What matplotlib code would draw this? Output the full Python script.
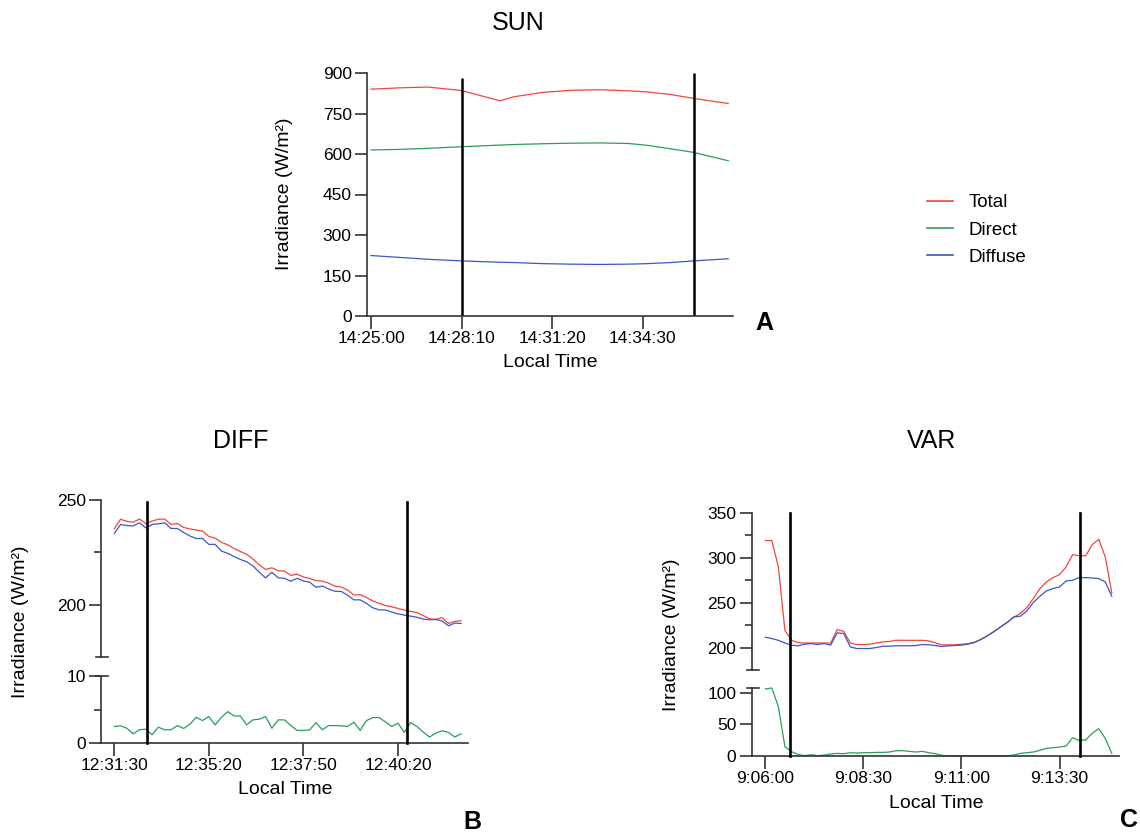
import numpy as np
import matplotlib.pyplot as plt
from matplotlib.lines import Line2D
from matplotlib.transforms import blended_transform_factory

plt.rcParams['font.family'] = ['Liberation Sans', 'DejaVu Sans']

RED = "#f2463a"
GREEN = "#2a9d58"
BLUE = "#3a58c4"
SPINE = "#333333"

# ---- SUN (seconds after 14:25:00) ----
sun_t = [0, 60, 120, 190, 271, 300, 360, 420, 480, 540, 580, 630, 677, 750]
sun_total = [840, 845, 848, 835, 797, 812, 828, 836, 838, 834, 830, 820, 806, 787]
sun_direct = [615, 617, 621, 627, 633, 635, 638, 640, 641, 639, 632, 619, 606, 575]
sun_diffuse = [224, 217, 210, 204, 199, 198, 194, 192, 191, 192, 194, 198, 204, 212]
sun_marks = [190, 678]
sun_ticks = [0, 190, 380, 570]
sun_ticklabels = ["14:25:00", "14:28:10", "14:31:20", "14:34:30"]

# ---- DIFF (10 s samples) ----
diff_t = np.arange(0, 560, 10)
diff_total = [236.2, 240.8, 239.8, 239.4, 240.9, 238.8, 239.9, 240.8, 240.9, 238.3,
              238.8, 236.9, 236.2, 235.6, 235.2, 232.6, 231.8, 229.8, 228.6, 226.8,
              225.4, 224.1, 221.8, 219.0, 216.8, 217.6, 216.2, 216.0, 214.0, 214.6,
              213.2, 212.5, 211.5, 211.2, 210.3, 208.8, 208.4, 207.0, 204.6, 204.8,
              203.4, 201.8, 200.6, 199.6, 199.0, 198.2, 197.4, 196.8, 196.2, 194.8,
              193.2, 193.0, 193.8, 191.0, 192.0, 192.3]
diff_diffuse = [234.0, 238.3, 237.8, 237.6, 239.1, 236.7, 238.3, 238.6, 239.1, 236.4,
                236.4, 234.5, 232.8, 231.6, 231.6, 228.8, 228.8, 225.6, 224.5, 223.0,
                221.6, 220.5, 218.5, 215.5, 212.8, 215.5, 212.8, 212.6, 211.2, 212.6,
                211.3, 210.7, 208.3, 208.9, 207.5, 206.4, 206.3, 204.5, 202.3, 202.3,
                200.6, 198.5, 197.5, 197.5, 196.5, 195.6, 195.0, 194.5, 194.0, 193.1,
                192.8, 192.9, 192.2, 189.9, 191.2, 191.0]
diff_direct = [2.46, 2.56, 2.2, 1.38, 1.97, 2.07, 1.23, 2.36, 1.97, 1.97,
               2.6, 2.17, 2.8, 3.84, 3.35, 3.94, 2.7, 3.84, 4.68, 4.04,
               4.04, 2.7, 3.45, 3.55, 3.94, 2.2, 3.45, 3.45, 2.6, 1.87,
               1.87, 1.97, 3.05, 1.97, 2.6, 2.6, 2.56, 2.46, 3.1, 1.87,
               3.35, 3.79, 3.79, 3.15, 2.46, 2.96, 1.58, 3.05, 2.46, 1.63,
               0.89, 1.48, 1.82, 1.58, 0.89, 1.38]
diff_marks = [52, 465]
diff_ticks = [0, 150, 300, 450]
diff_ticklabels = ["12:31:30", "12:35:20", "12:37:50", "12:40:20"]

# ---- VAR (10 s samples after 9:06:00) ----
var_t = np.arange(0, 540, 10)
var_total = [319, 319, 289.6, 219, 208, 205.5, 205, 205, 205, 205,
             205, 220, 218, 205, 203.3, 203.3, 203.7, 205, 206.3, 206.7,
             208.1, 208, 208, 208, 208, 207.4, 205.2, 203, 203, 203,
             203.7, 204.4, 206, 209.3, 213.3, 218, 223, 227.8, 233.7, 237.8,
             244.4, 254.4, 265.6, 273, 277.8, 281, 289.6, 303.3, 302.2, 302,
             314.4, 320.4, 300.7, 260.7]
var_diffuse = [211.5, 210, 208, 205, 202.6, 201.9, 203.7, 204.4, 203.3, 204.4,
               202.6, 216.3, 215.6, 200.7, 198.9, 198.9, 198.9, 200, 201.5, 201.5,
               201.9, 201.9, 201.9, 202.2, 203.3, 203, 202.2, 201.1, 201.9, 202.2,
               202.6, 203.7, 205.6, 208.9, 213, 217.8, 223, 228.1, 234, 234.8,
               240.7, 250, 257, 263, 265.6, 267.4, 274, 274.8, 277.8, 277.8,
               277.4, 276.7, 273, 257]
var_direct = [107, 108.5, 78.6, 14.4, 6.4, 2.1, 0, 1.6, 0, 1,
              2.7, 3.7, 3.2, 4.8, 4.3, 4.8, 4.8, 5.3, 5.3, 5.9,
              8, 8, 7, 5.9, 7, 4.8, 3.2, 0.5, 0, 0,
              0, 0, 0, 0, 0, 0, 0, 0, 1, 3.7,
              4.8, 5.9, 8.6, 11.8, 12.8, 13.9, 15.5, 28.9, 24.6, 25.1,
              35.8, 43.3, 27.8, 3.7]
var_marks = [37.8, 481]
var_ticks = [0, 150, 300, 450]
var_ticklabels = ["9:06:00", "9:08:30", "9:11:00", "9:13:30"]

W, H = 1140, 832
fig = plt.figure(figsize=(W / 100, H / 100), dpi=100)


def box(left, top, right, bottom):
    return [left / W, 1 - bottom / H, (right - left) / W, (bottom - top) / H]


def style(ax, spines):
    for s in ["top", "right", "left", "bottom"]:
        ax.spines[s].set_visible(s in spines)
        ax.spines[s].set_color(SPINE)
        ax.spines[s].set_linewidth(1.2)
    ax.tick_params(which="major", length=9, width=1.2, color=SPINE, labelsize=12.5, pad=2)
    ax.tick_params(which="minor", length=5, width=1.2, color=SPINE)
    ax.patch.set_alpha(0)


def brk(x_px, y_px):
    fig.add_artist(Line2D([(x_px - 5) / W, (x_px + 7) / W], [1 - y_px / H] * 2,
                          color=SPINE, lw=1.2))


def vmarks(ax_low, marks, top_px):
    tr = blended_transform_factory(ax_low.transData, fig.transFigure)
    y0 = ax_low.get_position().y0
    for m in marks:
        fig.add_artist(Line2D([m, m], [y0, 1 - top_px / H], transform=tr,
                              color="black", lw=1.9, zorder=5))


# ---------------- SUN ----------------
ax = fig.add_axes(box(367, 73, 733, 316))
style(ax, ["left", "bottom"])
ax.plot(sun_t, sun_total, color=RED, lw=0.9)
ax.plot(sun_t, sun_direct, color=GREEN, lw=0.9)
ax.plot(sun_t, sun_diffuse, color=BLUE, lw=0.9)
ax.vlines(sun_marks[0], 0, 881, color="black", lw=1.8)
ax.vlines(sun_marks[1], 0, 900, color="black", lw=1.8)
ax.set_xlim(-8.4, 760)
ax.set_ylim(0, 900)
ax.set_yticks(np.arange(0, 901, 150))
ax.set_xticks(sun_ticks, sun_ticklabels)
fig.text(518 / W, 1 - 23 / H, "SUN", fontsize=18, ha="center", va="center")
fig.text(284.5 / W, 1 - 194 / H, "Irradiance (W/m²)", fontsize=14, rotation=90,
         ha="center", va="center")
fig.text(550 / W, 1 - 363 / H, "Local Time", fontsize=14, ha="center", va="center")
fig.text(764 / W, 1 - 323 / H, "A", fontsize=18, fontweight="bold", ha="center", va="center")

handles = [Line2D([], [], color=c, lw=1.2) for c in (RED, GREEN, BLUE)]
fig.legend(handles, ["Total", "Direct", "Diffuse"], loc="upper left",
           bbox_to_anchor=(927 / W, 1 - 194 / H), frameon=False, fontsize=13.5,
           borderpad=0, borderaxespad=0, handlelength=1.4, handletextpad=0.8,
           labelspacing=0.55)

# ---------------- DIFF ----------------
axu = fig.add_axes(box(101, 500, 468, 657))
axl = fig.add_axes(box(101, 676, 468, 743))
style(axu, ["left"])
style(axl, ["left", "bottom"])
axu.plot(diff_t, diff_total, color=RED, lw=0.9)
axu.plot(diff_t, diff_diffuse, color=BLUE, lw=0.9)
axl.plot(diff_t, diff_direct, color=GREEN, lw=0.9)
for a in (axu, axl):
    a.set_xlim(-21, 561)
axu.set_ylim(175, 250)
axl.set_ylim(0, 10)
axu.set_yticks([200, 250])
axu.set_yticks([225], minor=True)
axu.set_xticks([])
axl.set_yticks([0, 10])
axl.set_yticks([5], minor=True)
axl.set_xticks(diff_ticks, diff_ticklabels)
brk(101, 657)
brk(101, 676)
vmarks(axl, diff_marks, 502)
fig.text(241 / W, 1 - 441 / H, "DIFF", fontsize=18, ha="center", va="center")
fig.text(21 / W, 1 - 622 / H, "Irradiance (W/m²)", fontsize=14, rotation=90,
         ha="center", va="center")
fig.text(285 / W, 1 - 790 / H, "Local Time", fontsize=14, ha="center", va="center")
fig.text(472 / W, 1 - 822 / H, "B", fontsize=18, fontweight="bold", ha="center", va="center")

# ---------------- VAR ----------------
axu = fig.add_axes(box(751.7, 512.7, 1119, 670))
axl = fig.add_axes(box(751.7, 688.3, 1119, 755.7))
style(axu, ["left"])
style(axl, ["left", "bottom"])
axu.plot(var_t, var_total, color=RED, lw=0.9)
axu.plot(var_t, var_diffuse, color=BLUE, lw=0.9)
axl.plot(var_t, var_direct, color=GREEN, lw=0.9, clip_on=False)
for a in (axu, axl):
    a.set_xlim(-20.8, 541)
axu.set_ylim(175, 350)
axl.set_ylim(0, 108)
axu.set_yticks([200, 250, 300, 350])
axu.set_yticks([225, 275, 325], minor=True)
axu.set_xticks([])
axl.set_yticks([0, 50, 100])
axl.set_xticks(var_ticks, var_ticklabels)
brk(751.7, 670)
brk(751.7, 688.3)
vmarks(axl, var_marks, 513)
fig.text(932 / W, 1 - 441 / H, "VAR", fontsize=18, ha="center", va="center")
fig.text(672 / W, 1 - 635 / H, "Irradiance (W/m²)", fontsize=14, rotation=90,
         ha="center", va="center")
fig.text(936 / W, 1 - 803 / H, "Local Time", fontsize=14, ha="center", va="center")
fig.text(1129 / W, 1 - 820 / H, "C", fontsize=18, fontweight="bold", ha="center", va="center")

fig.savefig("out.png", dpi=100)
